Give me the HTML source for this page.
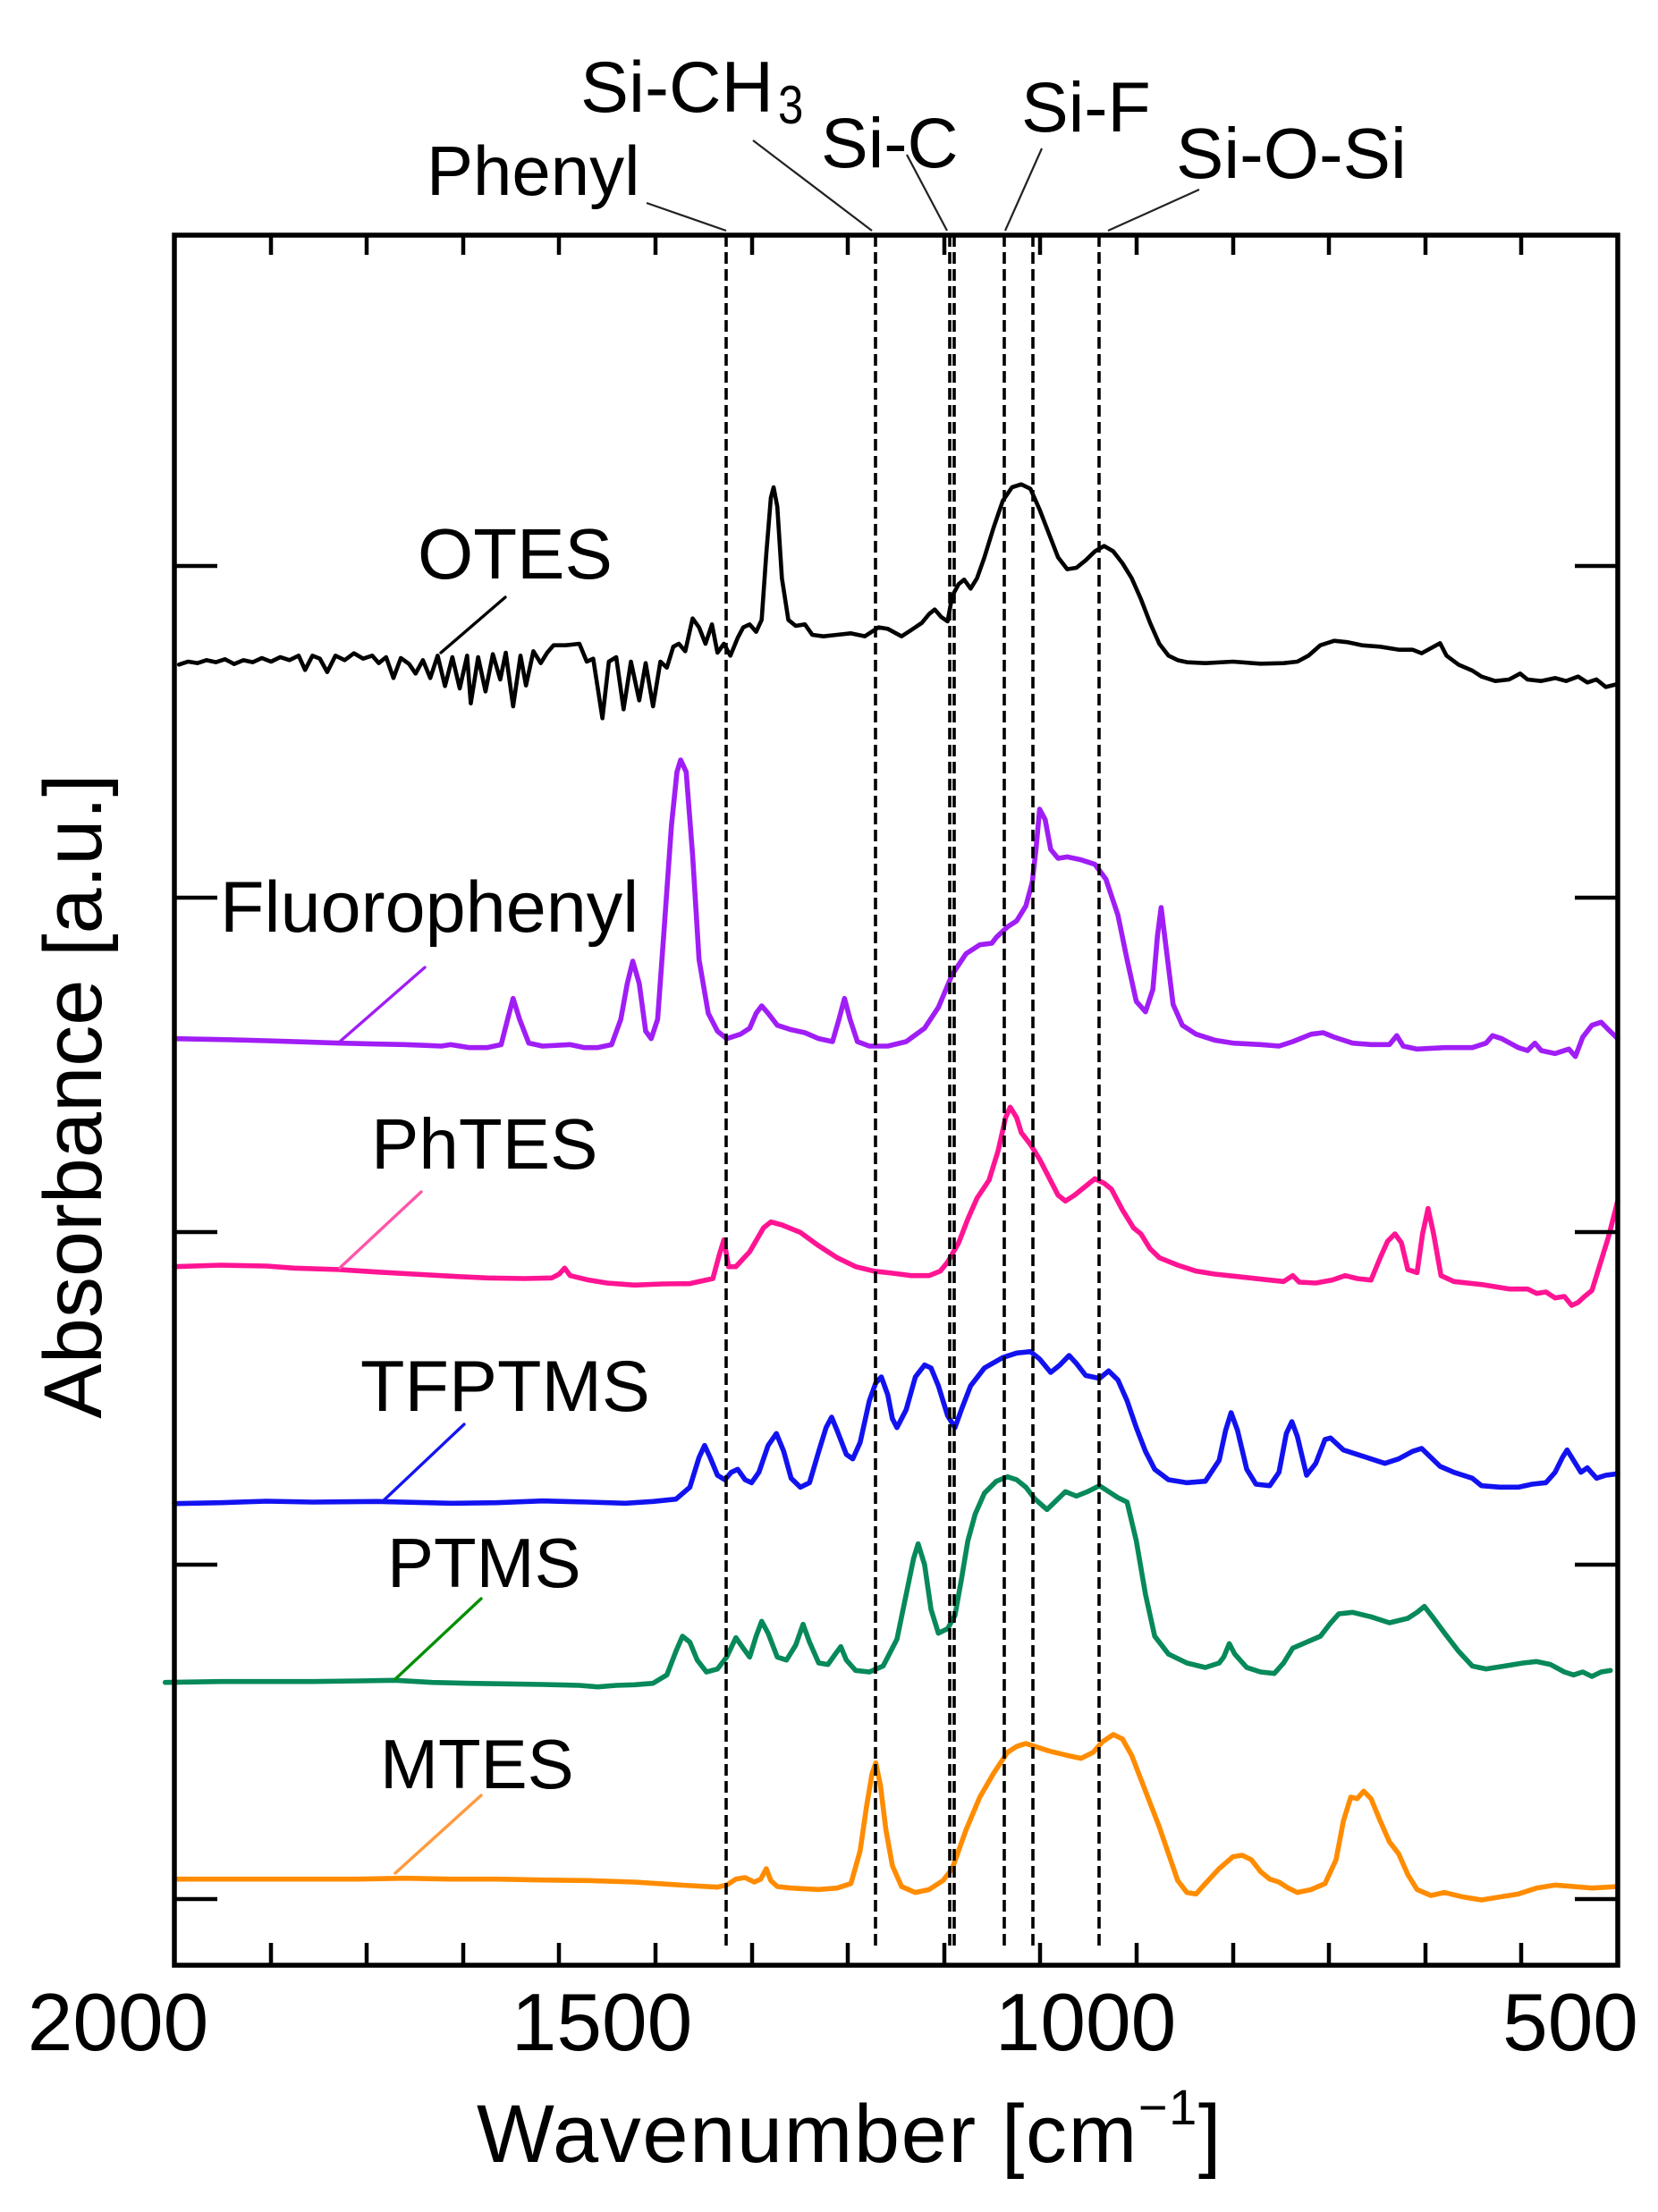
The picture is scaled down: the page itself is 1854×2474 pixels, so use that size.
<!DOCTYPE html>
<html>
<head>
<meta charset="utf-8">
<style>
html,body{margin:0;padding:0;background:#fff;}
svg{display:block;}
text{font-family:"Liberation Sans",Arial,sans-serif;fill:#000;}
</style>
</head>
<body>
<svg width="1854" height="2474" viewBox="0 0 1854 2474" xmlns="http://www.w3.org/2000/svg">
<rect x="0" y="0" width="1854" height="2474" fill="#fff"/>

<!-- Curves (coordinates in zoom space, mapped to original) -->
<g fill="none" stroke-linejoin="round" stroke-linecap="round">
<!-- OTES -->
<g transform="translate(195,520) scale(1.0293,0.33333)">
<polyline vector-effect="non-scaling-stroke" stroke="#000" stroke-width="4.6" points="5,670 15,660 25,665 35,655 45,662 55,652 65,668 75,655 85,662 95,648 105,660 115,645 125,655 135,640 142,688 150,640 158,650 166,695 175,640 185,655 195,632 205,650 215,640 222,665 230,645 238,715 246,648 255,668 262,700 270,655 278,715 286,640 294,742 302,645 310,750 318,640 322,800 330,645 338,760 346,635 354,720 360,630 368,810 376,640 382,740 390,625 398,665 405,630 412,605 425,605 440,600 448,660 455,650 465,850 472,660 480,645 488,820 496,660 505,790 512,665 520,810 528,660 535,680 542,610 548,600 555,625 563,515 570,545 577,600 584,535 590,630 597,600 604,640 612,580 618,545 625,535 632,560 638,520 643,300 648,110 651,75 655,140 660,380 667,520 675,540 685,535 693,570 705,575 720,570 735,565 750,575 765,545 775,550 790,575 800,555 812,530 820,500 826,485 833,510 840,525 845,440 852,400 858,385 865,415 872,380 880,310 890,210 900,120 910,75 920,65 930,80 940,150 950,230 960,310 970,350 980,345 990,320 1000,290 1010,272 1020,290 1030,330 1040,380 1050,450 1060,530 1070,600 1080,640 1090,655 1100,662 1120,665 1150,660 1180,667 1205,665 1220,660 1232,640 1245,605 1260,590 1275,595 1290,605 1310,610 1330,620 1345,620 1355,632 1365,615 1375,598 1382,640 1395,670 1410,690 1420,710 1435,725 1450,720 1462,700 1470,720 1485,725 1500,715 1512,725 1525,710 1535,730 1545,720 1555,745 1568,735"/>
</g>
<!-- Fluorophenyl -->
<g transform="translate(195,840) scale(1.0293,0.33333)">
<polyline vector-effect="non-scaling-stroke" stroke="#A01EF5" stroke-width="5.6" points="0,965 50,968 100,972 140,976 180,980 220,983 250,985 275,988 290,990 300,985 320,995 340,995 355,985 362,900 368,830 375,900 385,980 400,990 430,985 445,995 460,995 475,985 485,900 492,780 498,705 505,780 512,940 518,965 525,900 532,600 540,250 546,70 550,30 556,70 563,350 570,700 580,880 590,940 600,965 615,950 625,930 632,880 638,855 645,880 655,920 670,935 685,945 700,965 715,975 722,900 728,830 734,900 742,975 755,990 775,990 795,975 815,930 830,860 845,750 860,680 875,650 888,645 893,625 905,590 915,570 925,520 932,440 936,330 940,195 946,230 952,330 960,360 970,355 985,365 1000,380 1012,430 1025,550 1035,700 1045,840 1055,875 1063,800 1068,620 1072,525 1077,650 1085,850 1095,920 1110,950 1130,970 1150,980 1180,985 1200,990 1215,975 1235,950 1248,945 1260,960 1280,980 1300,985 1320,985 1328,955 1335,990 1350,1000 1380,995 1410,995 1425,980 1432,955 1442,965 1460,995 1470,1005 1478,980 1485,1005 1500,1015 1515,1000 1522,1025 1530,960 1540,920 1550,910 1558,935 1568,965"/>
</g>
<!-- PhTES -->
<g transform="translate(195,1230) scale(1.0293,0.33333)">
<polyline vector-effect="non-scaling-stroke" stroke="#FF1493" stroke-width="5.6" points="0,560 50,555 100,558 130,565 180,570 220,578 260,585 300,592 340,598 380,600 410,598 418,585 424,565 430,590 450,605 470,615 500,622 530,618 560,617 585,600 592,520 597,470 602,560 610,560 625,510 640,430 648,410 660,420 680,445 700,490 720,530 740,560 760,575 780,582 800,590 820,590 832,575 840,545 852,480 862,400 872,330 885,270 895,170 903,60 908,25 915,60 920,110 930,150 940,200 950,260 960,320 968,340 978,320 990,290 1000,265 1010,280 1018,300 1030,370 1042,430 1050,450 1060,500 1070,530 1090,555 1110,575 1130,585 1160,595 1190,605 1205,610 1215,590 1222,612 1240,615 1258,605 1272,590 1285,600 1300,605 1310,530 1318,475 1326,450 1333,480 1340,570 1350,580 1356,450 1362,365 1368,450 1376,590 1390,610 1420,620 1450,635 1470,635 1480,650 1490,645 1500,665 1510,660 1518,690 1525,680 1532,660 1540,640 1548,560 1558,460 1568,340"/>
</g>
<!-- TFPTMS -->
<g transform="translate(195,1490) scale(1.0293,0.33333)">
<polyline vector-effect="non-scaling-stroke" stroke="#1212F0" stroke-width="5.6" points="0,575 50,572 100,567 150,570 220,568 260,571 300,574 350,572 400,566 450,570 490,574 520,568 545,560 560,520 570,420 576,380 582,420 590,480 598,495 605,470 612,460 620,495 627,505 635,470 645,380 654,340 662,400 670,490 680,520 690,505 700,400 708,320 714,285 720,330 730,410 737,425 745,370 755,230 762,170 768,150 775,210 780,290 785,320 795,260 805,150 815,110 822,120 830,180 840,280 848,320 855,260 865,180 880,120 900,85 915,70 930,65 940,90 952,135 962,110 972,78 980,105 990,145 1005,155 1015,130 1025,160 1035,230 1045,320 1055,400 1065,460 1080,495 1100,505 1120,500 1135,430 1142,330 1148,270 1155,330 1165,460 1175,510 1190,515 1200,470 1208,340 1214,300 1220,350 1230,480 1240,440 1250,360 1256,355 1270,395 1285,410 1300,425 1315,440 1330,425 1345,400 1355,390 1365,420 1375,450 1390,470 1410,490 1420,515 1440,520 1460,520 1475,510 1490,505 1500,470 1508,420 1513,395 1520,430 1528,470 1535,455 1545,490 1555,480 1568,475"/>
</g>
<!-- PTMS -->
<g transform="translate(195,1640) scale(1.0293,0.33333)">
<polyline vector-effect="non-scaling-stroke" stroke="#07895A" stroke-width="5.6" points="-10,725 50,722 100,722 150,722 200,720 240,718 280,725 320,728 360,730 400,732 440,735 460,740 480,735 500,733 520,728 535,700 545,620 552,570 560,590 568,650 578,690 590,680 600,640 610,575 618,610 625,640 632,570 638,520 645,560 655,640 665,650 675,600 683,530 690,590 700,660 710,665 718,630 724,605 730,650 740,685 755,690 770,670 785,580 795,430 803,310 808,260 815,330 822,480 830,560 840,545 848,500 855,380 862,250 870,160 880,90 893,50 905,35 915,45 925,70 935,110 948,145 958,115 968,85 980,100 992,85 1005,65 1015,85 1025,105 1035,120 1045,250 1055,430 1065,570 1080,630 1100,660 1120,675 1135,660 1140,640 1146,595 1152,630 1165,675 1180,690 1195,695 1205,660 1215,610 1230,590 1245,570 1255,530 1265,495 1280,490 1300,505 1320,525 1340,510 1350,490 1358,470 1368,510 1380,560 1395,620 1410,670 1425,680 1445,670 1465,660 1480,655 1495,665 1510,690 1520,700 1530,690 1540,705 1550,690 1560,685"/>
</g>
<!-- MTES -->
<g transform="translate(195,1920) scale(1.0293,0.33333)">
<polyline vector-effect="non-scaling-stroke" stroke="#FF8C00" stroke-width="5.6" points="0,545 50,545 100,545 150,545 200,545 250,542 300,545 350,545 400,548 450,550 500,555 550,565 590,572 600,565 610,545 620,540 630,555 637,545 643,510 648,550 655,570 670,575 700,580 720,575 735,560 745,450 752,300 758,190 762,155 767,230 773,380 780,500 790,570 805,590 820,580 835,550 845,510 860,380 875,270 890,190 905,120 915,100 925,90 935,100 950,115 970,130 985,140 998,120 1008,85 1020,60 1030,75 1040,130 1050,210 1060,290 1070,370 1080,460 1090,550 1100,590 1110,595 1120,560 1135,510 1150,470 1160,465 1170,480 1180,520 1190,545 1200,555 1210,575 1220,590 1235,580 1250,560 1262,480 1270,350 1278,270 1285,275 1292,250 1300,275 1310,350 1320,420 1330,460 1340,530 1350,580 1365,600 1380,590 1400,605 1420,615 1440,605 1460,595 1480,575 1500,565 1520,570 1540,575 1568,570"/>
</g>
</g>

<!-- Dashed reference lines -->
<g stroke="#000" stroke-width="3.6" stroke-dasharray="13,6" fill="none">
<line x1="812" y1="263" x2="812" y2="2182"/>
<line x1="979" y1="263" x2="979" y2="2182"/>
<line x1="1062" y1="263" x2="1062" y2="2182"/>
<line x1="1067" y1="263" x2="1067" y2="2182"/>
<line x1="1123" y1="263" x2="1123" y2="2182"/>
<line x1="1155" y1="263" x2="1155" y2="2182"/>
<line x1="1229" y1="263" x2="1229" y2="2182"/>
</g>

<!-- Frame -->
<rect x="195" y="263" width="1614" height="1935" fill="none" stroke="#000" stroke-width="5.5"/>
<g stroke="#000" stroke-width="4.5">
<line x1="303" y1="263" x2="303" y2="285"/><line x1="410" y1="263" x2="410" y2="285"/><line x1="518" y1="263" x2="518" y2="285"/><line x1="625" y1="263" x2="625" y2="285"/><line x1="733" y1="263" x2="733" y2="285"/><line x1="841" y1="263" x2="841" y2="285"/><line x1="948" y1="263" x2="948" y2="285"/><line x1="1056" y1="263" x2="1056" y2="285"/><line x1="1163" y1="263" x2="1163" y2="285"/><line x1="1271" y1="263" x2="1271" y2="285"/><line x1="1379" y1="263" x2="1379" y2="285"/><line x1="1486" y1="263" x2="1486" y2="285"/><line x1="1594" y1="263" x2="1594" y2="285"/><line x1="1701" y1="263" x2="1701" y2="285"/>
<line x1="303" y1="2198" x2="303" y2="2173"/><line x1="410" y1="2198" x2="410" y2="2173"/><line x1="518" y1="2198" x2="518" y2="2173"/><line x1="625" y1="2198" x2="625" y2="2173"/><line x1="733" y1="2198" x2="733" y2="2173"/><line x1="841" y1="2198" x2="841" y2="2173"/><line x1="948" y1="2198" x2="948" y2="2173"/><line x1="1056" y1="2198" x2="1056" y2="2173"/><line x1="1163" y1="2198" x2="1163" y2="2173"/><line x1="1271" y1="2198" x2="1271" y2="2173"/><line x1="1379" y1="2198" x2="1379" y2="2173"/><line x1="1486" y1="2198" x2="1486" y2="2173"/><line x1="1594" y1="2198" x2="1594" y2="2173"/><line x1="1701" y1="2198" x2="1701" y2="2173"/>
<line x1="195" y1="633" x2="243" y2="633"/><line x1="195" y1="1004" x2="243" y2="1004"/><line x1="195" y1="1378" x2="243" y2="1378"/><line x1="195" y1="1750" x2="243" y2="1750"/><line x1="195" y1="2124" x2="243" y2="2124"/>
<line x1="1809" y1="633" x2="1761" y2="633"/><line x1="1809" y1="1004" x2="1761" y2="1004"/><line x1="1809" y1="1378" x2="1761" y2="1378"/><line x1="1809" y1="1750" x2="1761" y2="1750"/><line x1="1809" y1="2124" x2="1761" y2="2124"/>
</g>

<!-- Top annotation labels -->
<text x="477" y="218" font-size="78">Phenyl</text>
<text x="649" y="125" font-size="81">Si-CH</text>
<text x="870" y="138" font-size="60" transform="translate(870,138) scale(0.85,1) translate(-870,-138)">3</text>
<text x="918" y="187" font-size="79">Si-C</text>
<text x="1142" y="147" font-size="79">Si-F</text>
<text x="1315" y="199" font-size="80">Si-O-Si</text>
<g stroke="#222" stroke-width="2.2">
<line x1="723" y1="227" x2="812" y2="258"/>
<line x1="842" y1="157" x2="975" y2="258"/>
<line x1="1014" y1="173" x2="1059" y2="258"/>
<line x1="1165" y1="166" x2="1124" y2="258"/>
<line x1="1341" y1="212" x2="1239" y2="258"/>
</g>

<!-- Curve labels -->
<text x="467" y="647" font-size="80">OTES</text>
<text x="246" y="1042" font-size="81">Fluorophenyl</text>
<text x="415" y="1307" font-size="80">PhTES</text>
<text x="403" y="1578" font-size="81">TFPTMS</text>
<text x="433" y="1775" font-size="78">PTMS</text>
<text x="425" y="2000" font-size="78">MTES</text>
<g stroke-width="3.4" stroke-linecap="round">
<line x1="565" y1="668" x2="493" y2="730" stroke="#000"/>
<line x1="475" y1="1082" x2="380" y2="1165" stroke="#A01EF5"/>
<line x1="471" y1="1333" x2="380" y2="1418" stroke="#FF55AA"/>
<line x1="519" y1="1593" x2="427" y2="1680" stroke="#1414F0"/>
<line x1="538" y1="1788" x2="442" y2="1878" stroke="#009000"/>
<line x1="538" y1="2008" x2="442" y2="2095" stroke="#FF9A3C"/>
</g>

<!-- Tick labels -->
<g font-size="91" text-anchor="middle">
<text x="132" y="2293">2000</text>
<text x="673" y="2293">1500</text>
<text x="1214" y="2293">1000</text>
<text x="1756" y="2293">500</text>
</g>

<!-- Axis titles -->
<text x="533" y="2418" font-size="92" letter-spacing="1.6">Wavenumber [cm<tspan font-size="56" dy="-42">−1</tspan><tspan dy="42">]</tspan></text>
<text transform="translate(113,1226) rotate(-90)" text-anchor="middle" font-size="92">Absorbance [a.u.]</text>
</svg>
</body>
</html>
